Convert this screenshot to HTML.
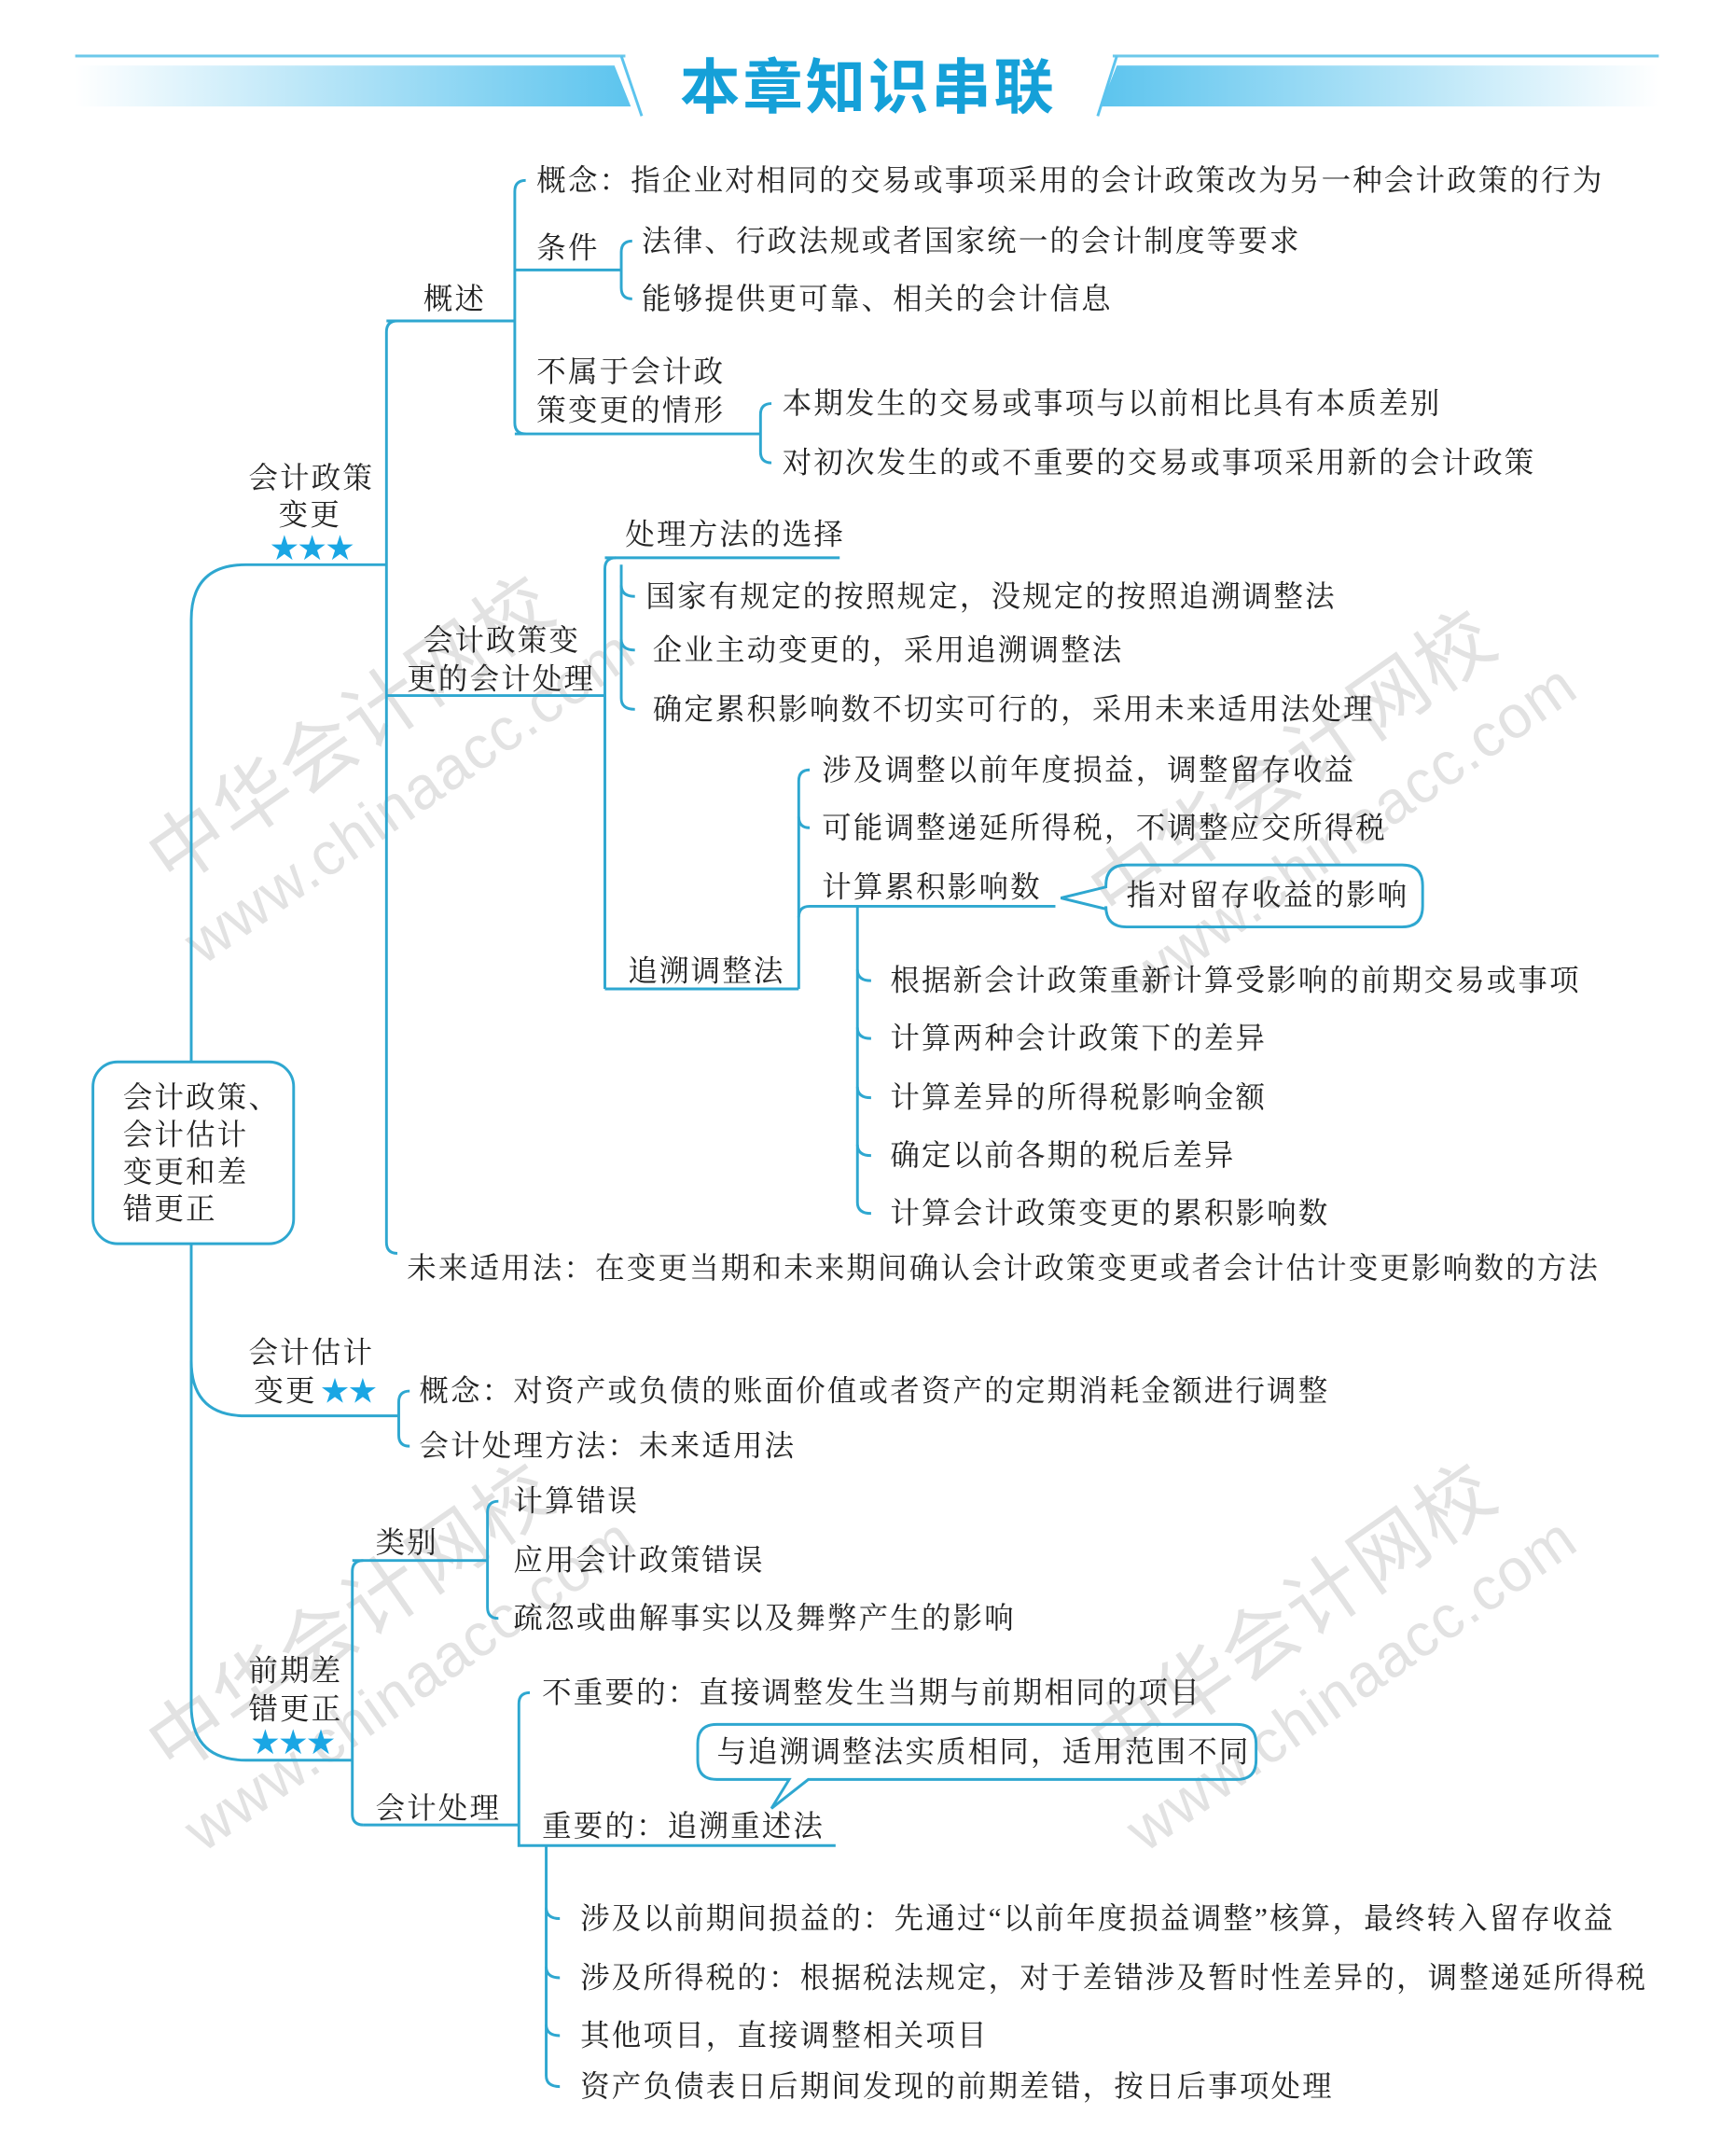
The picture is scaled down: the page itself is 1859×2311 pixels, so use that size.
<!DOCTYPE html>
<html><head><meta charset="utf-8">
<style>
html,body{margin:0;padding:0;background:#fff;}
svg{display:block;}
text{font-family:"Liberation Serif","Noto Serif CJK SC",serif;font-size:21.5px;letter-spacing:1.5px;fill:#222;dominant-baseline:central;}
.l{fill:none;stroke:#2ea7d0;stroke-width:2;}
text.st{fill:#1aa6e4;font-family:"DejaVu Sans",sans-serif;font-size:25px;letter-spacing:-2px;}
text.wm1{fill:#e2e2e2;font-family:"Liberation Sans","Noto Sans CJK SC",sans-serif;font-size:56px;letter-spacing:2px;}
text.wm2{fill:#e2e2e2;font-family:"Liberation Sans","Noto Sans CJK SC",sans-serif;font-size:44px;letter-spacing:1px;}
text.ttl{font-family:'Noto Sans CJK SC',sans-serif;font-size:44px;font-weight:bold;fill:#15a0d8;letter-spacing:2px;}
</style></head><body>
<svg width="1859" height="2311" viewBox="0 0 1270 1579" xmlns="http://www.w3.org/2000/svg">
<defs>
<linearGradient id="gl" x1="0" x2="1"><stop offset="0" stop-color="#fff"/><stop offset="1" stop-color="#5cc4ee"/></linearGradient>
<linearGradient id="gr" x1="1" x2="0"><stop offset="0" stop-color="#fff"/><stop offset="1" stop-color="#5cc4ee"/></linearGradient>
</defs>
<!-- watermarks -->
<g>
<text class="wm1" transform="translate(115,635) rotate(-35)">中华会计网校</text>
<text class="wm2" transform="translate(140,695) rotate(-35)">www.chinaacc.com</text>
<text class="wm1" transform="translate(805,660) rotate(-35)">中华会计网校</text>
<text class="wm2" transform="translate(830,720) rotate(-35)">www.chinaacc.com</text>
<text class="wm1" transform="translate(115,1285) rotate(-35)">中华会计网校</text>
<text class="wm2" transform="translate(140,1345) rotate(-35)">www.chinaacc.com</text>
<text class="wm1" transform="translate(805,1285) rotate(-35)">中华会计网校</text>
<text class="wm2" transform="translate(830,1345) rotate(-35)">www.chinaacc.com</text>
</g>
<!-- header -->
<line x1="55" y1="41" x2="458" y2="41" stroke="#6cc8ea" stroke-width="2"/>
<line x1="815" y1="41" x2="1215" y2="41" stroke="#6cc8ea" stroke-width="2"/>
<polygon points="55,48 450,48 462,78 55,78" fill="url(#gl)"/>
<polygon points="818,48 1215,48 1215,78 806,78" fill="url(#gr)"/>
<line x1="455" y1="41" x2="470" y2="85" stroke="#5cc4ee" stroke-width="2"/>
<line x1="818" y1="41" x2="804" y2="85" stroke="#5cc4ee" stroke-width="2"/>
<text x="636" y="60" text-anchor="middle" class="ttl">本章知识串联</text>

<g transform="matrix(1,0,0,1.0087,0,0)">
<!-- root -->
<rect x="68" y="771" width="147" height="132" rx="18" class="l" fill="#fff"/>
<text x="90" y="797">会计政策、</text>
<text x="90" y="824">会计估计</text>
<text x="90" y="851">变更和差</text>
<text x="90" y="878">错更正</text>
<!-- spine -->
<path class="l" d="M140,771 V450 Q140,410 180,410 H283"/>
<path class="l" d="M140,903 V988 Q140,1028 180,1028 H292"/>
<path class="l" d="M140,988 V1238 Q140,1278 180,1278 H258"/>
<text x="182" y="347">会计政策</text>
<text x="204" y="374">变更</text>
<text x="197" y="398" class="st">★★★</text>
<text x="182" y="982">会计估计</text>
<text x="186" y="1010">变更</text>
<text x="234" y="1010" class="st">★★</text>
<text x="182" y="1213">前期差</text>
<text x="182" y="1241">错更正</text>
<text x="183" y="1265" class="st">★★★</text>

<!-- 会计政策变更 children -->
<path class="l" d="M291,233 Q283,233 283,241 V902 Q283,910 291,910"/>
<path class="l" d="M283,233 H377"/>
<path class="l" d="M283,505 H443"/>
<text x="310" y="217">概述</text>
<text x="310" y="465">会计政策变</text>
<text x="298" y="493">更的会计处理</text>
<text x="298" y="921">未来适用法：在变更当期和未来期间确认会计政策变更或者会计估计变更影响数的方法</text>

<!-- 概述 -->
<path class="l" d="M385,131 Q377,131 377,139 V307 Q377,315 385,315"/>
<path class="l" d="M377,196 H455"/>
<path class="l" d="M377,315 H557"/>
<text x="393" y="131">概念：指企业对相同的交易或事项采用的会计政策改为另一种会计政策的行为</text>
<text x="393" y="180">条件</text>
<text x="393" y="270">不属于会计政</text>
<text x="393" y="298">策变更的情形</text>
<path class="l" d="M463,175 Q455,175 455,183 V209 Q455,217 463,217"/>
<text x="470" y="175">法律、行政法规或者国家统一的会计制度等要求</text>
<text x="470" y="217">能够提供更可靠、相关的会计信息</text>
<path class="l" d="M565,293 Q557,293 557,301 V328 Q557,336 565,336"/>
<text x="573" y="293">本期发生的交易或事项与以前相比具有本质差别</text>
<text x="573" y="336">对初次发生的或不重要的交易或事项采用新的会计政策</text>

<!-- 会计处理 -->
<path class="l" d="M451,405 Q443,405 443,413 V718"/>
<path class="l" d="M443,405 H615"/>
<path class="l" d="M443,718 H585"/>
<text x="458" y="388">处理方法的选择</text>
<text x="460" y="705">追溯调整法</text>
<path class="l" d="M455,410 V507 Q455,515 465,515"/>
<path class="l" d="M455,425 Q455,433 465,433"/>
<path class="l" d="M455,464 Q455,472 465,472"/>
<text x="473" y="433">国家有规定的按照规定，没规定的按照追溯调整法</text>
<text x="478" y="472">企业主动变更的，采用追溯调整法</text>
<text x="478" y="515">确定累积影响数不切实可行的，采用未来适用法处理</text>

<!-- 追溯调整法 -->
<path class="l" d="M593,559 Q585,559 585,567 V718"/>
<path class="l" d="M585,593 Q585,601 593,601"/>
<path class="l" d="M585,666 Q585,658 593,658 H773"/>
<text x="602" y="559">涉及调整以前年度损益，调整留存收益</text>
<text x="602" y="601">可能调整递延所得税，不调整应交所得税</text>
<text x="602" y="644">计算累积影响数</text>
<path class="l" d="M825,628 H1027 Q1042,628 1042,643 V658 Q1042,673 1027,673 H825 Q810,673 810,658 V660 L777,652 L810,644 V643 Q810,628 825,628 Z" fill="#fff"/>
<text x="825" y="650">指对留存收益的影响</text>
<path class="l" d="M628,658 V873 Q628,881 638,881"/>
<path class="l" d="M628,704 Q628,712 638,712"/>
<path class="l" d="M628,746 Q628,754 638,754"/>
<path class="l" d="M628,789 Q628,797 638,797"/>
<path class="l" d="M628,831 Q628,839 638,839"/>
<text x="652" y="712">根据新会计政策重新计算受影响的前期交易或事项</text>
<text x="652" y="754">计算两种会计政策下的差异</text>
<text x="652" y="797">计算差异的所得税影响金额</text>
<text x="652" y="839">确定以前各期的税后差异</text>
<text x="652" y="881">计算会计政策变更的累积影响数</text>

<!-- 估计变更 -->
<path class="l" d="M300,1010 Q292,1010 292,1018 V1042 Q292,1050 300,1050"/>
<text x="307" y="1010">概念：对资产或负债的账面价值或者资产的定期消耗金额进行调整</text>
<text x="307" y="1050">会计处理方法：未来适用法</text>

<!-- 前期差错 -->
<path class="l" d="M266,1133 Q258,1133 258,1141 V1317 Q258,1325 266,1325"/>
<path class="l" d="M258,1133 H357"/>
<path class="l" d="M266,1325 H380"/>
<text x="275" y="1120">类别</text>
<text x="275" y="1313">会计处理</text>
<path class="l" d="M365,1090 Q357,1090 357,1098 V1167 Q357,1175 365,1175"/>
<text x="376" y="1090">计算错误</text>
<text x="376" y="1133">应用会计政策错误</text>
<text x="376" y="1175">疏忽或曲解事实以及舞弊产生的影响</text>
<path class="l" d="M388,1229 Q380,1229 380,1237 V1340 H612"/>
<text x="397" y="1229">不重要的：直接调整发生当期与前期相同的项目</text>
<text x="397" y="1326">重要的：追溯重述法</text>
<path class="l" d="M525,1252 H906 Q920,1252 920,1266 V1278 Q920,1292 906,1292 H592 L565,1313 L578,1292 H525 Q511,1292 511,1278 V1266 Q511,1252 525,1252 Z" fill="#fff"/>
<text x="525" y="1272">与追溯调整法实质相同，适用范围不同</text>
<path class="l" d="M400,1340 V1507 Q400,1515 410,1515"/>
<path class="l" d="M400,1385 Q400,1393 410,1393"/>
<path class="l" d="M400,1428 Q400,1436 410,1436"/>
<path class="l" d="M400,1470 Q400,1478 410,1478"/>
<text x="425" y="1393">涉及以前期间损益的：先通过“以前年度损益调整”核算，最终转入留存收益</text>
<text x="425" y="1436">涉及所得税的：根据税法规定，对于差错涉及暂时性差异的，调整递延所得税</text>
<text x="425" y="1478">其他项目，直接调整相关项目</text>
<text x="425" y="1515">资产负债表日后期间发现的前期差错，按日后事项处理</text>
</g>
</svg>
</body></html>
